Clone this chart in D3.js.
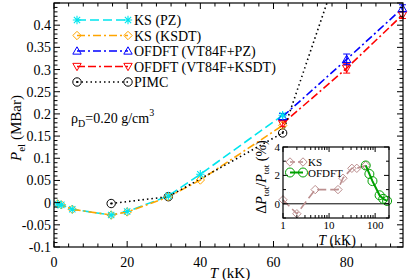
<!DOCTYPE html>
<html><head><meta charset="utf-8">
<script src="https://cdn.jsdelivr.net/npm/d3@7/dist/d3.min.js"></script>
<style>body{margin:0;background:#fff}svg{display:block;font-family:"Liberation Serif","Times New Roman",serif}</style>
</head><body><svg id="c" width="409" height="280"></svg>
<script>
// ---- data ----
const ksT = [1, 2, 5, 15.625, 20, 31.25, 40, 62.5];
const ksPZ = [-0.003, -0.005, -0.015, -0.028, -0.020, 0.015, 0.064, 0.197];
const ksKSDT = [-0.003, -0.005, -0.015, -0.028, -0.021, 0.013, 0.051, 0.174];
const ofT = [62.5, 80, 95.25];
const ofPZ = [0.194, 0.323, 0.438];
const ofPZerr = [0.007, 0.012, 0.008];
const ofKSDT = [0.178, 0.303, 0.423];
const ofKSDTerr = [0.006, 0.011, 0.008];
const pimcT = [15.625, 31.25, 62.5, 95.25];
const pimcP = [-0.002, 0.0134, 0.157, 0.95];
const xTicks = [0, 20, 40, 60, 80];
const yTicks = [-0.1, -0.05, 0, 0.05, 0.1, 0.15, 0.2, 0.25, 0.3, 0.35, 0.4];
const legendNames = ["KS (PZ)", "KS (KSDT)", "OFDFT (VT84F+PZ)", "OFDFT (VT84F+KSDT)", "PIMC"];
// inset
const insKsT = [1, 2, 5, 15.625, 20, 31.25, 40, 62.5];
const insKsD = [0.28, -0.7, 1.0, 1.0, 1.8, 2.5, 2.5, 2.7];
const insOfT = [62.5, 75, 87.5, 125, 150, 181.825];
const insOfD = [2.7, 2.1, 1.6, 0.6, 0.35, 0.2];
const insXTicks = [1, 10, 100];
const insYTicks = [0, 2, 4];

const svg = d3.select("#c");
const L = 54, R = 403, T0 = 3, B = 247;
const x = d3.scaleLinear().domain([0, 95.4]).range([L, R]);
const y = d3.scaleLinear().domain([-0.1, 0.45]).range([B, T0]);

const C = {cyan: "#00e5ee", orange: "#ffa500", blue: "#0000ff", red: "#ff0000", black: "#000"};

svg.append("defs").append("clipPath").attr("id", "clipM")
  .append("rect").attr("x", L).attr("y", T0).attr("width", R - L).attr("height", B - T0);

function marker(g, type, cx, cy, col) {
  const s = 4.2;
  if (type === "star") {
    g.append("path").attr("stroke", col).attr("stroke-width", 1.1).attr("fill", "none")
      .attr("d", `M${cx-s},${cy}H${cx+s}M${cx},${cy-s}V${cy+s}M${cx-s*0.75},${cy-s*0.75}L${cx+s*0.75},${cy+s*0.75}M${cx-s*0.75},${cy+s*0.75}L${cx+s*0.75},${cy-s*0.75}`);
  } else if (type === "diamond") {
    g.append("path").attr("stroke", col).attr("stroke-width", 1).attr("fill", "none")
      .attr("d", `M${cx},${cy-s}L${cx+s},${cy}L${cx},${cy+s}L${cx-s},${cy}Z`);
  } else if (type === "up") {
    g.append("path").attr("stroke", col).attr("stroke-width", 1).attr("fill", "none")
      .attr("d", `M${cx},${cy-s}L${cx+s},${cy+s*0.75}L${cx-s},${cy+s*0.75}Z`);
  } else if (type === "down") {
    g.append("path").attr("stroke", col).attr("stroke-width", 1).attr("fill", "none")
      .attr("d", `M${cx},${cy+s}L${cx+s},${cy-s*0.75}L${cx-s},${cy-s*0.75}Z`);
  } else if (type === "circdot") {
    g.append("circle").attr("cx", cx).attr("cy", cy).attr("r", s).attr("stroke", col).attr("stroke-width", 1).attr("fill", "none");
    g.append("circle").attr("cx", cx).attr("cy", cy).attr("r", 1.1).attr("fill", col);
  } else if (type === "circ") {
    g.append("circle").attr("cx", cx).attr("cy", cy).attr("r", s).attr("stroke", col).attr("stroke-width", 1).attr("fill", "none");
  }
}

const series = [
  {name: legendNames[0], xs: ksT, ys: ksPZ, col: C.cyan, dash: "9,4", mk: "star"},
  {name: legendNames[1], xs: ksT, ys: ksKSDT, col: C.orange, dash: "8,3,2,3", mk: "diamond"},
  {name: legendNames[2], xs: ofT, ys: ofPZ, err: ofPZerr, col: C.blue, dash: "8,3,2,3", mk: "up"},
  {name: legendNames[3], xs: ofT, ys: ofKSDT, err: ofKSDTerr, col: C.red, dash: "8,3,8,3,2,3", mk: "down"},
  {name: legendNames[4], xs: pimcT, ys: pimcP, col: C.black, dash: "1.5,3", mk: "circdot"}
];

const line = d3.line().x(d => x(d[0])).y(d => y(d[1]));
const gl = svg.append("g").attr("clip-path", "url(#clipM)");
series.forEach(s => {
  const pts = s.xs.map((t, i) => [t, s.ys[i]]);
  gl.append("path").attr("d", line(pts)).attr("fill", "none").attr("stroke", s.col)
    .attr("stroke-width", 1.6).attr("stroke-dasharray", s.dash);
});
const gm = svg.append("g");
[4, 3, 2, 1, 0].forEach(k => {
  const s = series[k];
  s.xs.forEach((t, i) => {
    const v = s.ys[i];
    if (v > 0.45 || v < -0.1) return;
    const cx = x(t), cy = y(v);
    if (s.err) {
      const y1 = y(v - s.err[i]), y2 = y(v + s.err[i]);
      gm.append("path").attr("stroke", s.col).attr("stroke-width", 1).attr("fill", "none")
        .attr("d", `M${cx},${y1}V${y2}M${cx-3.5},${y1}H${cx+3.5}M${cx-3.5},${y2}H${cx+3.5}`);
    }
    marker(gm, s.mk, cx, cy, s.col);
  });
});

// axes frame and ticks
const ga = svg.append("g").attr("stroke", "#000").attr("fill", "none");
ga.append("rect").attr("x", L).attr("y", T0).attr("width", R - L).attr("height", B - T0).attr("stroke-width", 1.2);
d3.range(0, 96, 4).forEach(v => {
  const major = v % 20 === 0, len = major ? 6 : 3.5, xx = x(v);
  ga.append("line").attr("x1", xx).attr("x2", xx).attr("y1", B).attr("y2", B - len);
  ga.append("line").attr("x1", xx).attr("x2", xx).attr("y1", T0).attr("y2", T0 + len);
});
d3.range(-100, 451, 10).forEach(k => {
  const v = k / 1000, major = k % 50 === 0, len = major ? 6 : 3.5, yy = y(v);
  ga.append("line").attr("x1", L).attr("x2", L + len).attr("y1", yy).attr("y2", yy);
  ga.append("line").attr("x1", R).attr("x2", R - len).attr("y1", yy).attr("y2", yy);
});
const gt = svg.append("g").attr("font-size", 14).attr("fill", "#000");
xTicks.forEach(v => gt.append("text").attr("x", x(v)).attr("y", 267).attr("text-anchor", "middle").text(v));
yTicks.forEach(v => gt.append("text").attr("x", 51).attr("y", y(v) + 5).attr("text-anchor", "end").text(v));

// axis labels
const xl = svg.append("text").attr("x", 230).attr("y", 278).attr("text-anchor", "middle").attr("font-size", 15);
xl.append("tspan").attr("font-style", "italic").text("T");
xl.append("tspan").text(" (kK)");
const yl = svg.append("text").attr("transform", "translate(21,128) rotate(-90)").attr("text-anchor", "middle").attr("font-size", 15);
yl.append("tspan").attr("font-style", "italic").text("P");
yl.append("tspan").attr("font-size", 11).attr("dy", 4).text("el");
yl.append("tspan").attr("dy", -4).text(" (MBar)");

// legend
const lg = svg.append("g");
series.forEach((s, i) => {
  const yy = 20 + i * 15.5;
  lg.append("line").attr("x1", 77).attr("x2", 128).attr("y1", yy).attr("y2", yy)
    .attr("stroke", s.col).attr("stroke-width", 1.6).attr("stroke-dasharray", s.dash);
  marker(lg, s.mk, 77, yy, s.col);
  marker(lg, s.mk === "circdot" ? "circ" : s.mk, 128, yy, s.col);
  lg.append("text").attr("x", 134).attr("y", yy + 5).attr("font-size", 14).text(s.name);
});

// density annotation
const ann = svg.append("text").attr("x", 71).attr("y", 123).attr("font-size", 14);
ann.append("tspan").text("ρ");
ann.append("tspan").attr("font-size", 10).attr("dy", 4).text("D");
ann.append("tspan").attr("dy", -4).text("=0.20 g/cm");
ann.append("tspan").attr("font-size", 10).attr("dy", -7).text("3");

// ---- inset ----
const iL = 283, iR = 389, iT = 147, iB = 218;
const ix = d3.scaleLog().domain([1, 200]).range([iL, iR]);
const iy = d3.scaleLinear().domain([-1, 4]).range([iB, iT]);
const gi = svg.append("g");
gi.append("rect").attr("x", iL).attr("y", iT).attr("width", iR - iL).attr("height", iB - iT).attr("fill", "#fff");
gi.append("line").attr("x1", iL).attr("x2", iR).attr("y1", iy(0)).attr("y2", iy(0)).attr("stroke", "#000").attr("stroke-width", 1);
const iline = d3.line().x(d => ix(d[0])).y(d => iy(d[1]));
const ksCol = "#bc8f8f", ofCol = "#00a000";
gi.append("path").attr("d", iline(insKsT.map((t, i) => [t, insKsD[i]]))).attr("fill", "none")
  .attr("stroke", ksCol).attr("stroke-width", 1.6).attr("stroke-dasharray", "9,4");
insKsT.forEach((t, i) => marker(gi, "diamond", ix(t), iy(insKsD[i]), ksCol));
gi.append("path").attr("d", iline(insOfT.map((t, i) => [t, insOfD[i]]))).attr("fill", "none")
  .attr("stroke", ofCol).attr("stroke-width", 2);
insOfT.forEach((t, i) => gi.append("circle").attr("cx", ix(t)).attr("cy", iy(insOfD[i])).attr("r", 4.5)
  .attr("fill", "none").attr("stroke", ofCol).attr("stroke-width", 1));
gi.append("rect").attr("x", iL).attr("y", iT).attr("width", iR - iL).attr("height", iB - iT)
  .attr("fill", "none").attr("stroke", "#000").attr("stroke-width", 1.2);
const it = gi.append("g").attr("stroke", "#000");
[1,2,3,4,5,6,7,8,9,10,20,30,40,50,60,70,80,90,100,200].forEach(v => {
  const major = v === 1 || v === 10 || v === 100, len = major ? 5 : 3, xx = ix(v);
  it.append("line").attr("x1", xx).attr("x2", xx).attr("y1", iB).attr("y2", iB - len);
  it.append("line").attr("x1", xx).attr("x2", xx).attr("y1", iT).attr("y2", iT + len);
});
[-1, 0, 1, 2, 3, 4].forEach(v => {
  const major = v % 2 === 0, len = major ? 5 : 3, yy = iy(v);
  it.append("line").attr("x1", iL).attr("x2", iL + len).attr("y1", yy).attr("y2", yy);
  it.append("line").attr("x1", iR).attr("x2", iR - len).attr("y1", yy).attr("y2", yy);
});
insXTicks.forEach(v => gi.append("text").attr("x", ix(v)).attr("y", 229).attr("text-anchor", "middle").attr("font-size", 11).text(v));
insYTicks.forEach(v => gi.append("text").attr("x", 280).attr("y", iy(v) + 4).attr("text-anchor", "end").attr("font-size", 11).text(v));
const ixl = gi.append("text").attr("x", 337).attr("y", 245).attr("text-anchor", "middle").attr("font-size", 14);
ixl.append("tspan").attr("font-style", "italic").text("T");
ixl.append("tspan").text(" (kK)");
const iyl = gi.append("text").attr("transform", "translate(266,177) rotate(-90)").attr("text-anchor", "middle").attr("font-size", 14);
iyl.append("tspan").text("Δ");
iyl.append("tspan").attr("font-style", "italic").text("P");
iyl.append("tspan").attr("font-size", 9).attr("dy", 3).text("tot");
iyl.append("tspan").attr("dy", -3).text("/");
iyl.append("tspan").attr("font-style", "italic").text("P");
iyl.append("tspan").attr("font-size", 9).attr("dy", 3).text("tot");
iyl.append("tspan").attr("dy", -3).text(" (%)");
// inset legend
[[ "KS", ksCol, "diamond", "9,4", 1.6], ["OFDFT", ofCol, "circ", null, 2]].forEach((e, i) => {
  const yy = 162 + i * 10.5;
  const ln = gi.append("line").attr("x1", 290).attr("x2", 303).attr("y1", yy).attr("y2", yy).attr("stroke", e[1]).attr("stroke-width", e[4]);
  if (e[3]) ln.attr("stroke-dasharray", "5,3");
  if (e[2] === "diamond") { marker(gi, "diamond", 290, yy, e[1]); marker(gi, "diamond", 303, yy, e[1]); }
  else { [290, 303].forEach(cx => gi.append("circle").attr("cx", cx).attr("cy", yy).attr("r", 4.5).attr("fill", "none").attr("stroke", e[1])); }
  gi.append("text").attr("x", 308).attr("y", yy + 4).attr("font-size", 11).text(e[0]);
});
</script></body></html>
